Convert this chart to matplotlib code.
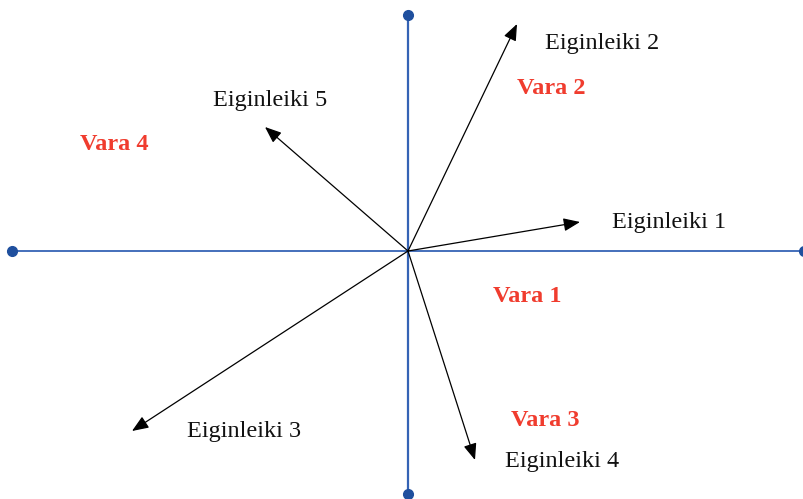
import matplotlib.pyplot as plt

# vector tips measured from the origin (pixel-like units)
vec_names = ['Eiginleiki 1', 'Eiginleiki 2', 'Eiginleiki 3', 'Eiginleiki 4', 'Eiginleiki 5']
vec_x = [172, 109, -276, 67, -143]
vec_y = [29, 227, -180, -209, 124]
label_x = [204, 137, -221, 97, -195]
label_y = [29, 208, -180, -210, 151]

# red region labels
vara_names = ['Vara 1', 'Vara 2', 'Vara 3', 'Vara 4']
vara_x = [85, 109, 103, -328]
vara_y = [-46, 163, -169, 107]

# axis extents
h_axis = [-396, 396]
v_axis = [-243, 236]

plt.rcParams['font.family'] = ['Liberation Serif', 'DejaVu Serif']

fig = plt.figure(figsize=(8.04, 4.99), dpi=100)
ax = fig.add_axes([0, 0, 1, 1])
ax.set_xlim(-408, 396)
ax.set_ylim(-248, 251)
ax.axis('off')

axis_col = '#3563B5'
dot_col = '#1F4F9E'
ax.plot(h_axis, [0, 0], color=axis_col, lw=1.3, zorder=1)
ax.plot([0, 0], v_axis, color=axis_col, lw=1.6, zorder=1)
ax.plot(h_axis, [0, 0], 'o', color=dot_col, ms=7, zorder=2, clip_on=False)
ax.plot([0, 0], v_axis, 'o', color=dot_col, ms=7, zorder=2, clip_on=False)

for x, y in zip(vec_x, vec_y):
    ax.annotate('', xy=(x, y), xytext=(0, 0),
                arrowprops=dict(arrowstyle='-|>,head_length=1.0,head_width=0.4',
                                color='black', lw=0.9, shrinkA=0, shrinkB=0))

for name, x, y in zip(vec_names, label_x, label_y):
    ax.text(x, y, name, fontsize=17.5, color='#111111', ha='left', va='center')

for name, x, y in zip(vara_names, vara_x, vara_y):
    ax.text(x, y, name, fontsize=17.5, color='#F03C2E', fontweight='bold',
            ha='left', va='center')

fig.savefig('out.png', dpi=100)
